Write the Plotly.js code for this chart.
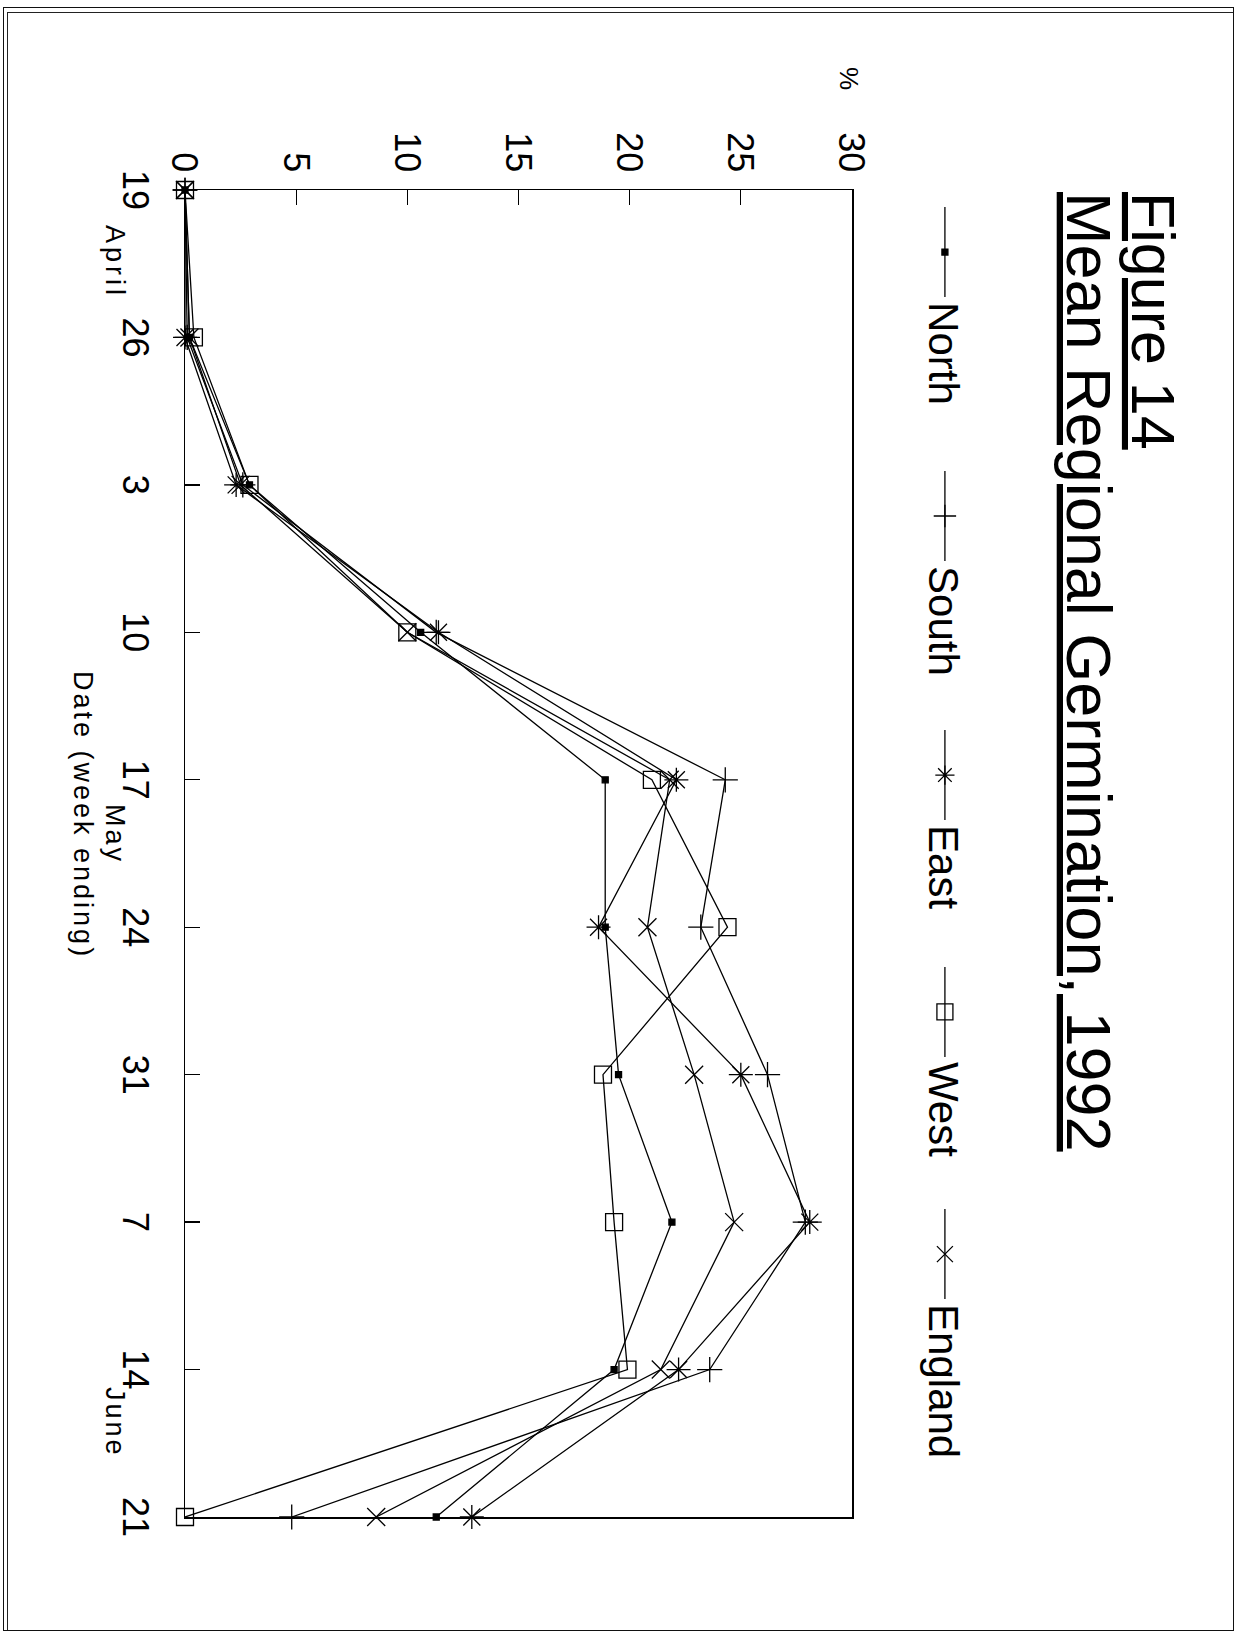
<!DOCTYPE html>
<html>
<head>
<meta charset="utf-8">
<title>Mean Regional Germination, 1992</title>
<script src="https://cdn.plot.ly/plotly-3.0.1.min.js"></script>
<style>
  html, body { margin: 0; padding: 0; background: #fff; width: 1237px; height: 1633px; overflow: hidden; }
  /* the figure is laid out landscape and turned a quarter clockwise onto the portrait page */
  #chart { position: absolute; left: 0; top: 0; width: 1633px; height: 1237px;
           transform-origin: 0 0; transform: translate(1237px, 0) rotate(90deg); }
  #sheet-outer { position: absolute; left: 3px; top: 7px; width: 1231px; height: 1624px; border: 1.5px solid #111;
                 box-sizing: border-box; pointer-events: none; z-index: 5; }
  #sheet-inner { position: absolute; left: 7px; top: 12px; width: 1226px; height: 1618px; border-left: 1.2px solid #222;
                 border-top: 1.2px solid #222; box-sizing: border-box; pointer-events: none; z-index: 5; }
</style>
</head>
<body>
<div id="chart"></div>
<div id="sheet-outer"></div>
<div id="sheet-inner"></div>
<script>
// week ending dates and their tick labels
const weekEnding = ['1992-04-19', '1992-04-26', '1992-05-03', '1992-05-10', '1992-05-17',
                    '1992-05-24', '1992-05-31', '1992-06-07', '1992-06-14', '1992-06-21'];
const weekLabels = ['19', '26', '3', '10', '17', '24', '31', '7', '14', '21'];

// mean germination (%) by region
const north   = [0, 0.2, 2.9, 10.6, 18.9, 18.9, 19.5, 21.9, 19.3, 11.3];
const south   = [0, 0.1, 2.6, 11.3, 24.3, 23.2, 26.2, 27.9, 23.6, 4.8];
const east    = [0, 0.0, 2.3, 11.4, 22.1, 18.6, 25.0, 28.1, 22.2, 12.9];
const west    = [0, 0.4, 2.9, 10.0, 21.0, 24.4, 18.8, 19.3, 19.9, 0];
const england = [0, 0.2, 2.5, 10.0, 21.8, 20.8, 22.9, 24.7, 21.4, 8.6];

const percentTicks = [0, 5, 10, 15, 20, 25, 30];

const FONT = 'Liberation Sans, Arial, Helvetica, sans-serif';
const INK = '#000';

function series(name, values, symbol, size, legendId) {
  return {
    type: 'scatter', mode: 'lines+markers', name: name,
    x: weekEnding, y: values,
    line: { color: INK, width: 1.3 },
    marker: { symbol: symbol, size: size, color: INK, line: { color: INK, width: 1.3 } },
    legend: legendId, cliponaxis: false, hoverinfo: 'skip'
  };
}

const traces = [
  series('North',   north,   'square',           6,  'legend'),
  series('South',   south,   'cross-thin-open',  18, 'legend2'),
  series('East',    east,    'asterisk-open',    20, 'legend3'),
  series('West',    west,    'square-open',      17, 'legend4'),
  series('England', england, 'x-thin-open',      18, 'legend5')
];

function legendBox(x) {
  return {
    orientation: 'h', x: x, xanchor: 'left', y: 1.139, yanchor: 'middle',
    font: { family: FONT, size: 42, color: INK },
    bgcolor: 'rgba(0,0,0,0)', borderwidth: 0, itemwidth: 90,
    itemclick: false, itemdoubleclick: false
  };
}

const axisCommon = {
  showline: true, linecolor: INK, linewidth: 1.5, mirror: true,
  ticks: 'inside', ticklen: 15, tickwidth: 1.3, tickcolor: INK,
  showgrid: false, zeroline: false, fixedrange: true,
  tickfont: { family: FONT, size: 36, color: INK }
};

const spaced = (txt, px) => '<span style="letter-spacing:' + px + 'px">' + txt + '</span>';

const layout = {
  width: 1633, height: 1237,
  margin: { l: 190, r: 116, t: 385, b: 185 },
  paper_bgcolor: '#fff', plot_bgcolor: '#fff',
  font: { family: FONT, color: INK },
  showlegend: true,
  legend:  legendBox(0.0091),
  legend2: legendBox(0.2080),
  legend3: legendBox(0.4032),
  legend4: legendBox(0.5817),
  legend5: legendBox(0.7642),
  xaxis: Object.assign({}, axisCommon, {
    type: 'date',
    range: [weekEnding[0], weekEnding[weekEnding.length - 1]],
    tickmode: 'array', tickvals: weekEnding, ticktext: weekLabels,
    ticklabelstandoff: 17
  }),
  yaxis: Object.assign({}, axisCommon, {
    range: [0, 30], tickmode: 'array', tickvals: percentTicks,
    ticktext: percentTicks.map(String),
    ticklabelstandoff: 9
  }),
  annotations: [
    { text: 'Figure 14', xref: 'paper', yref: 'paper', x: 0, y: 1.452,
      xanchor: 'left', yanchor: 'middle', showarrow: false,
      font: { family: FONT, size: 61, color: INK, lineposition: 'under' } },
    { text: 'Mean Regional Germination, 1992', xref: 'paper', yref: 'paper', x: 0, y: 1.355,
      xanchor: 'left', yanchor: 'middle', showarrow: false,
      font: { family: FONT, size: 63, color: INK, lineposition: 'under' } },
    { text: '%', xref: 'paper', yref: 'paper', x: -0.084, y: 0.996,
      xanchor: 'center', yanchor: 'middle', showarrow: false,
      font: { family: FONT, size: 26, color: INK } },
    { text: spaced('April', 4), xref: 'x', yref: 'paper', x: '1992-04-22 10:00', y: -0.105,
      xanchor: 'center', yanchor: 'middle', showarrow: false,
      font: { family: FONT, size: 27, color: INK } },
    { text: spaced('May', 3), xref: 'x', yref: 'paper', x: '1992-05-19 14:00', y: -0.105,
      xanchor: 'center', yanchor: 'middle', showarrow: false,
      font: { family: FONT, size: 27, color: INK } },
    { text: spaced('June', 3), xref: 'x', yref: 'paper', x: '1992-06-16 12:00', y: -0.105,
      xanchor: 'center', yanchor: 'middle', showarrow: false,
      font: { family: FONT, size: 27, color: INK } },
    { text: spaced('Date (week ending)', 3), xref: 'x', yref: 'paper', x: '1992-05-18 16:00', y: -0.153,
      xanchor: 'center', yanchor: 'middle', showarrow: false,
      font: { family: FONT, size: 27, color: INK } }
  ]
};

Plotly.newPlot('chart', traces, layout, { staticPlot: true, displayModeBar: false });
</script>
</body>
</html>
